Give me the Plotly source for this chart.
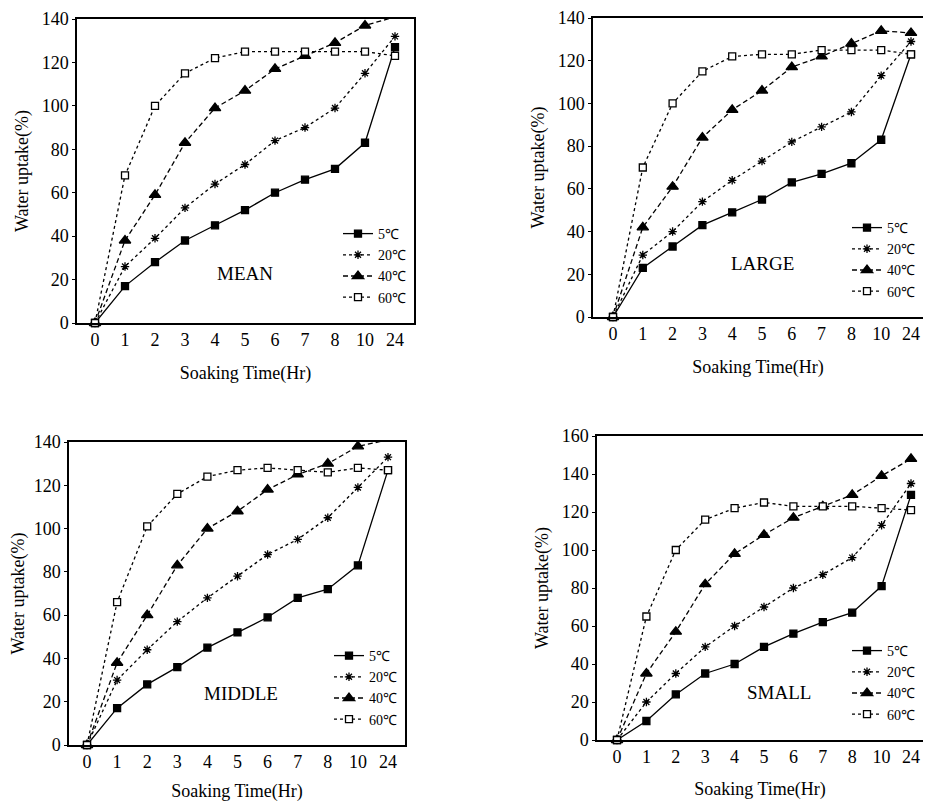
import plotly.graph_objects as go

# ---- data ----
hours = ["0", "1", "2", "3", "4", "5", "6", "7", "8", "10", "24"]
temps = ["5℃", "20℃", "40℃", "60℃"]
panel_names = ["MEAN", "LARGE", "MIDDLE", "SMALL"]

mean_5c = [0, 17, 28, 38, 45, 52, 60, 66, 71, 83, 127]
mean_20c = [0, 26, 39, 53, 64, 73, 84, 90, 99, 115, 132]
mean_40c = [0, 38, 59, 83, 99, 107, 117, 123, 129, 137, 141]
mean_60c = [0, 68, 100, 115, 122, 125, 125, 125, 125, 125, 123]

large_5c = [0, 23, 33, 43, 49, 55, 63, 67, 72, 83, 123]
large_20c = [0, 29, 40, 54, 64, 73, 82, 89, 96, 113, 129]
large_40c = [0, 42, 61, 84, 97, 106, 117, 122, 128, 134, 133]
large_60c = [0, 70, 100, 115, 122, 123, 123, 125, 125, 125, 123]

middle_5c = [0, 17, 28, 36, 45, 52, 59, 68, 72, 83, 127]
middle_20c = [0, 30, 44, 57, 68, 78, 88, 95, 105, 119, 133]
middle_40c = [0, 38, 60, 83, 100, 108, 118, 125, 130, 138, 141]
middle_60c = [0, 66, 101, 116, 124, 127, 128, 127, 126, 128, 127]

small_5c = [0, 10, 24, 35, 40, 49, 56, 62, 67, 81, 129]
small_20c = [0, 20, 35, 49, 60, 70, 80, 87, 96, 113, 135]
small_40c = [0, 35, 57, 82, 98, 108, 117, 123, 129, 139, 148]
small_60c = [0, 65, 100, 116, 122, 125, 123, 123, 123, 122, 121]

y_max = [140, 140, 140, 160]
y_ticks_step = 20

# ---- styles ----
FONT = "Liberation Serif"
dashes = ["solid", "dot", "5px,3px", "3px,3px"]
symbols = ["square", "asterisk", "triangle-up", "square"]
sizes = [7, 7, 10, 7]
fills = ["black", "black", "black", "white"]

series = [
    [mean_5c, mean_20c, mean_40c, mean_60c],
    [large_5c, large_20c, large_40c, large_60c],
    [middle_5c, middle_20c, middle_40c, middle_60c],
    [small_5c, small_20c, small_40c, small_60c],
]

# page has an 8px body margin: figure pixel = page pixel - 8
OFF = 8
W, H = 915, 794
# plot-area boxes in page pixels (left, right, top, bottom)
boxes = [(77, 414, 19, 323), (593, 923, 18, 317), (69, 405, 442, 745), (597, 923, 436, 740)]
# page x of category "0" and of category "24"
tick_ends = [(95, 395), (613, 911), (87, 388), (617, 911)]
label_pos = [(5.0, 23), (5.03, 25), (5.1, 24), (5.5, 25)]
x_title_standoff = [17, 17, 21, 16]

fig = go.Figure()
layout = dict(
    width=W, height=H,
    margin=dict(l=0, r=0, t=0, b=0, autoexpand=False),
    paper_bgcolor="white", plot_bgcolor="white",
    font=dict(family=FONT, color="black", size=16),
    annotations=[],
)

for i in range(4):
    n = "" if i == 0 else str(i + 1)
    xa, ya = "x" + n, "y" + n
    lg = "legend" + n
    for j in range(4):
        fig.add_trace(go.Scatter(
            x=hours, y=series[i][j], name=temps[j], mode="lines+markers",
            xaxis=xa, yaxis=ya, legend=lg, cliponaxis=False,
            line=dict(color="black", width=1.3, dash=dashes[j]),
            marker=dict(symbol=symbols[j], size=sizes[j], color=fills[j],
                        line=dict(color="black", width=1.3)),
        ))
    l, r, t, b = [v - OFF for v in boxes[i]]
    t0, t24 = tick_ends[i]
    step = (t24 - t0) / 10.0
    xr = [(l + OFF - t0) / step, (r + OFF - t0) / step]
    layout["xaxis" + n] = dict(
        domain=[l / W, r / W], anchor=ya, type="category", range=xr,
        showline=True, mirror=True, linecolor="black", linewidth=1.5,
        showgrid=False, zeroline=False, ticks="", ticklabeloverflow="allow",
        tickfont=dict(family=FONT, size=18),
        title=dict(text="Soaking Time(Hr)", standoff=x_title_standoff[i],
                   font=dict(family=FONT, size=18)),
    )
    layout["yaxis" + n] = dict(
        domain=[1 - b / H, 1 - t / H], anchor=xa, range=[0, y_max[i]],
        dtick=y_ticks_step, showline=True, mirror=True, linecolor="black", linewidth=1.5,
        showgrid=False, zeroline=False, ticks="outside", ticklen=3, tickcolor="black",
        ticklabeloverflow="allow",
        tickfont=dict(family=FONT, size=18),
        title=dict(text="Water uptake(%)", standoff=8, font=dict(family=FONT, size=18)),
    )
    layout[lg] = dict(
        x=(r - 3) / W, y=1 - (b - 10) / H, xanchor="right", yanchor="bottom",
        orientation="v", bgcolor="rgba(0,0,0,0)", itemwidth=30,
        font=dict(family=FONT, size=14), tracegroupgap=0,
    )
    layout["annotations"].append(dict(
        x=label_pos[i][0], y=label_pos[i][1], xref=xa, yref=ya,
        text=panel_names[i], showarrow=False, font=dict(family=FONT, size=19),
    ))

fig.update_layout(**layout)
fig.write_html("out.html")
